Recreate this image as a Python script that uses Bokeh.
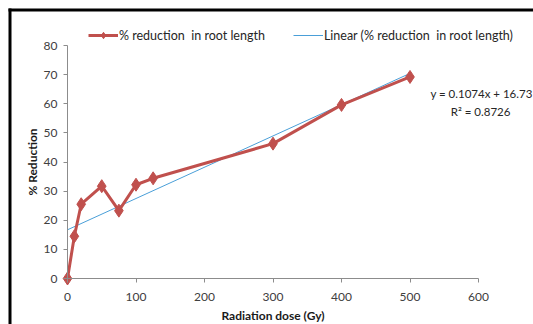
from bokeh.plotting import figure
from bokeh.models import Range1d, Legend, LegendItem, Label, FixedTicker, BoxAnnotation
from bokeh.embed import file_html
from bokeh.resources import INLINE

# Data
dose = [0, 10, 20, 50, 75, 100, 125, 300, 400, 500]
reduction = [0, 14.5, 25.5, 31.7, 23.3, 32.2, 34.4, 46.3, 59.6, 69.2]
slope = 0.1074
intercept = 16.73
r_squared = 0.8726
trend_x = [0, 500]
x_ticks = [0, 100, 200, 300, 400, 500, 600]
y_ticks = [0, 10, 20, 30, 40, 50, 60, 70, 80]

trend_y = [slope * x + intercept for x in trend_x]

FONT = "Lato"
RED = "#c0504d"
BLUE = "#4a9fd8"
W, H = 533, 324

p = figure(width=W, height=H, x_range=Range1d(-97.81, 680.29), y_range=Range1d(-15.79, 95.45),
           output_backend="svg", toolbar_location=None, title=None,
           min_border_left=0, min_border_right=0, min_border_top=0, min_border_bottom=0)
p.outline_line_color = None
p.xgrid.visible = False
p.ygrid.visible = False
p.background_fill_color = "white"
p.border_fill_color = "white"

for ax, ticks, bnds in ((p.xaxis, x_ticks, (0, 600)), (p.yaxis, y_ticks, (0, 80))):
    ax.fixed_location = 0
    ax.bounds = bnds
    ax.ticker = FixedTicker(ticks=ticks)
    ax.axis_line_color = "#8c8c8c"
    ax.major_tick_line_color = "#8c8c8c"
    ax.major_tick_out = 4
    ax.major_tick_in = 0
    ax.minor_tick_line_color = None
    ax.major_label_text_font = FONT
    ax.major_label_text_font_size = "12px"
    ax.major_label_text_color = "#404040"
    ax.axis_label_text_font = FONT
    ax.axis_label_text_font_size = "12px"
    ax.axis_label_text_font_style = "bold"
    ax.axis_label_text_color = "#1a1a1a"

p.xaxis.axis_label = "Radiation dose (Gy)"
p.yaxis.axis_label = "% Reduction"
p.xaxis.major_label_standoff = 10
p.xaxis.axis_label_standoff = 4
p.yaxis.major_label_standoff = 6
p.yaxis.axis_label_standoff = 1

# outer black frame (left and top edges, like the chart's border)
p.add_layout(BoxAnnotation(left=8, right=11, bottom=0, top=H - 8, left_units="screen", right_units="screen",
                           bottom_units="screen", top_units="screen", fill_color="black", fill_alpha=1,
                           line_color=None))
p.add_layout(BoxAnnotation(left=8, right=W, bottom=H - 11, top=H - 8, left_units="screen", right_units="screen",
                           bottom_units="screen", top_units="screen", fill_color="black", fill_alpha=1,
                           line_color=None))

trend = p.line(trend_x, trend_y, line_color=BLUE, line_width=1)
data_line = p.line(dose, reduction, line_color=RED, line_width=3)
data_pts = p.scatter(dose, reduction, marker="diamond", size=13, fill_color=RED, line_color=RED)

legend = Legend(items=[LegendItem(label="% reduction  in root length", renderers=[data_line, data_pts]),
                       LegendItem(label="Linear (% reduction  in root length)", renderers=[trend])],
                orientation="horizontal", location=(88, 281), border_line_color=None,
                background_fill_alpha=0, padding=0, margin=0, spacing=28, glyph_width=30,
                glyph_height=16, label_height=16, label_standoff=1,
                label_text_font=FONT, label_text_font_size="12.5px", label_text_color="#262626")
p.add_layout(legend)

p.add_layout(Label(x=604.4, y=63.5, text=f"y = {slope}x + {intercept}", text_align="center",
                   text_baseline="middle", text_font=FONT, text_font_size="11.5px", text_color="#262626"))
p.add_layout(Label(x=603, y=57.3, text=f"R\u00b2 = {r_squared}", text_align="center",
                   text_baseline="middle", text_font=FONT, text_font_size="11.5px", text_color="#262626"))

open("out.html", "w").write(file_html(p, INLINE))
